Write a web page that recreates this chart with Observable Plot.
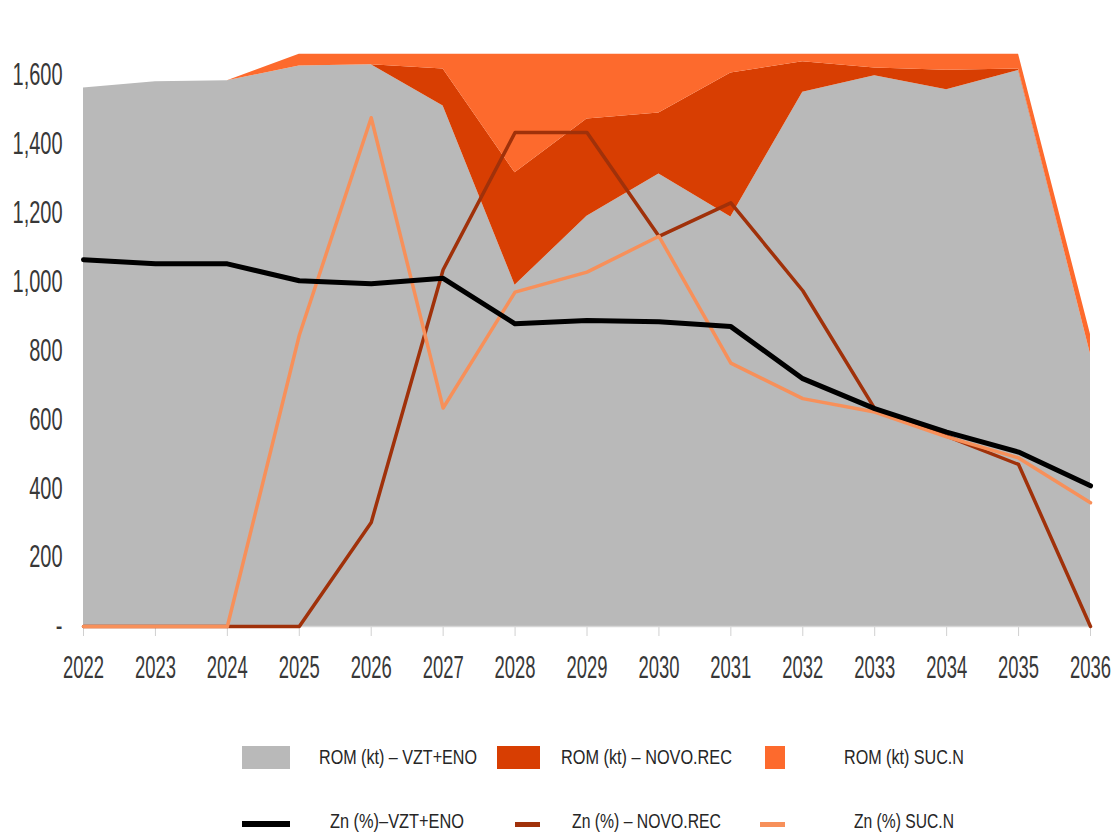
<!DOCTYPE html>
<html>
<head>
<meta charset="utf-8">
<script src="https://cdn.jsdelivr.net/npm/d3@7"></script>
<script src="https://cdn.jsdelivr.net/npm/@observablehq/plot@0.6"></script>
<style>
  html, body { margin: 0; padding: 0; background: #ffffff; }
  #wrap { position: relative; width: 1117px; height: 832px; overflow: hidden; }
  #chart { position: absolute; left: 0; top: 0; }
  #chart svg text { font-family: "Liberation Sans", "DejaVu Sans", sans-serif; fill: #383838; }
  .lg { position: absolute; font-family: "Liberation Sans", "DejaVu Sans", sans-serif; font-size: 21px; color: #262626; white-space: nowrap; line-height: 1; transform-origin: 0 50%; }
  .sw { position: absolute; }
</style>
</head>
<body>
<div id="wrap">
  <div id="chart"></div>
  <div id="legend"></div>
</div>
<script>
// ---- Data ----
const years = [2022, 2023, 2024, 2025, 2026, 2027, 2028, 2029, 2030, 2031, 2032, 2033, 2034, 2035, 2036];

// ROM (kt) stacked areas
const romVztEno  = [1562, 1580, 1583, 1626, 1630, 1510, 990, 1190, 1313, 1188, 1550, 1598, 1557, 1613, 790];
const romNovoRec = [0, 0, 0, 0, 0, 107, 326, 282, 177, 418, 88, 22, 57, 4, 0];
const romSucN    = [0, 0, 0, 34, 30, 43, 344, 188, 170, 54, 22, 40, 46, 43, 57];

// Zn (%) lines (as plotted against the chart's axis)
const znVztEno  = [1064, 1052, 1052, 1003, 994, 1010, 878, 888, 884, 870, 719, 632, 564, 506, 408];
const znNovoRec = [0, 0, 0, 0, 302, 1035, 1433, 1433, 1132, 1229, 974, 632, 552, 470, 0];
const znSucN    = [0, 0, 0, 845, 1476, 634, 970, 1028, 1132, 764, 661, 622, 550, 489, 359];

const yTicks = [0, 200, 400, 600, 800, 1000, 1200, 1400, 1600];

const areaNames = ["ROM (kt) – VZT+ENO", "ROM (kt) – NOVO.REC", "ROM (kt) SUC.N"];
const areaColors = ["#b9b9b9", "#d83e02", "#fd6a2d"];
const lineNames = ["Zn (%)–VZT+ENO", "Zn (%) – NOVO.REC", "Zn (%) SUC.N"];
const lineColors = ["#000000", "#a0310a", "#f7905a"];

// ---- Build tidy tables ----
const areaSeries = [romVztEno, romNovoRec, romSucN];
const areaData = [];
areaSeries.forEach((vals, i) => vals.forEach((v, j) => areaData.push({year: years[j], value: v, series: areaNames[i]})));

const lineSeries = [znVztEno, znNovoRec, znSucN];
const lineData = lineSeries.map((vals, i) => vals.map((v, j) => ({year: years[j], value: v, series: lineNames[i]})));

const fmt = d3.format(",");

const plot = Plot.plot({
  width: 1117,
  height: 700,
  marginLeft: 83,
  marginRight: 27,
  marginTop: 40,
  marginBottom: 74,
  style: {background: "transparent", color: "#d0d0d0"},
  x: {type: "linear", domain: [2022, 2036], ticks: years, tickFormat: d => String(d), tickSize: 10, tickPadding: 19, label: null},
  y: {domain: [0, 1700], ticks: yTicks, tickFormat: d => d === 0 ? "-" : fmt(d), tickSize: 0, tickPadding: 21, label: null},
  color: {domain: areaNames, range: areaColors},
  marks: [
    Plot.areaY(areaData, {x: "year", y: "value", fill: "series", order: areaNames}),
    Plot.ruleY([0], {stroke: "#d6d6d6", strokeWidth: 1.5}),
    Plot.line(lineData[1], {x: "year", y: "value", stroke: lineColors[1], strokeWidth: 3.5, strokeLinejoin: "round"}),
    Plot.line(lineData[2], {x: "year", y: "value", stroke: lineColors[2], strokeWidth: 3.5, strokeLinejoin: "round"}),
    Plot.line(lineData[0], {x: "year", y: "value", stroke: lineColors[0], strokeWidth: 5, strokeLinejoin: "round"})
  ]
});

document.getElementById("chart").appendChild(plot);

// Condense axis tick labels (tall narrow numerals as in the reference)
const texts = Array.from(plot.querySelectorAll("text"));
texts.forEach(t => {
  const lbl = (t.closest("g[aria-label]") || {getAttribute: () => ""}).getAttribute("aria-label") || "";
  t.dataset.axis = lbl.startsWith("x-axis") ? "x" : "y";
  t.style.fontSize = t.dataset.axis === "x" ? "32px" : "31px";
});
function widthOf(str, axis) {
  const t = texts.find(tt => tt.textContent === str && tt.dataset.axis === axis);
  return t ? t.getComputedTextLength() : null;
}
const wx = widthOf("2022", "x");
const wy = widthOf("1,600", "y");
const sx = wx ? 41 / wx : 0.7;
const sy = wy ? 50 / wy : 0.75;
texts.forEach(t => {
  const s = t.dataset.axis === "x" ? sx : sy;
  const x = +(t.getAttribute("x") || 0);
  const prev = t.getAttribute("transform") || "";
  t.setAttribute("transform", `${prev} translate(${x},0) scale(${s},1) translate(${-x},0)`);
});

// ---- Legend (HTML, below the SVG) ----
const legend = document.getElementById("legend");
const boxes = [
  {x: 242, w: 48, h: 23},
  {x: 497, w: 43, h: 23},
  {x: 765, w: 20, h: 23}
];
const textX1 = [319, 561, 844];
const textW1 = [158, 171, 120];
const lineSw = [
  {x: 242, w: 48, h: 6},
  {x: 515, w: 25, h: 5},
  {x: 760, w: 25, h: 5}
];
const textX2 = [330, 572, 854];
const textW2 = [134, 149, 100];
const row1 = 757, row2 = 824;

function addText(name, x, top, w) {
  const t = document.createElement("div");
  t.className = "lg";
  t.textContent = name;
  Object.assign(t.style, {left: x + "px", top: top + "px"});
  legend.appendChild(t);
  const actual = t.getBoundingClientRect().width;
  if (actual > 0) t.style.transform = `scaleX(${w / actual})`;
}

areaNames.forEach((name, i) => {
  const b = document.createElement("div");
  b.className = "sw";
  Object.assign(b.style, {left: boxes[i].x + "px", top: (row1 - boxes[i].h / 2) + "px", width: boxes[i].w + "px", height: boxes[i].h + "px", background: areaColors[i]});
  legend.appendChild(b);
  addText(name, textX1[i], row1 - 11, textW1[i]);
});
lineNames.forEach((name, i) => {
  const b = document.createElement("div");
  b.className = "sw";
  Object.assign(b.style, {left: lineSw[i].x + "px", top: (row2 - lineSw[i].h / 2) + "px", width: lineSw[i].w + "px", height: lineSw[i].h + "px", background: lineColors[i]});
  legend.appendChild(b);
  addText(name, textX2[i], 810, textW2[i]);
});
</script>
</body>
</html>
